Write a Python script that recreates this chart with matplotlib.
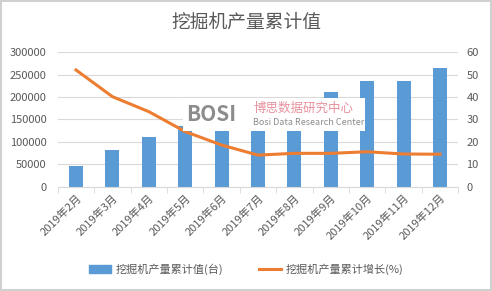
import numpy as np
import matplotlib.pyplot as plt
from matplotlib.lines import Line2D
from matplotlib.patches import Patch

plt.rcParams['font.family'] = ['Noto Sans CJK SC', 'DejaVu Sans']

months = ["2019年2月", "2019年3月", "2019年4月", "2019年5月", "2019年6月", "2019年7月",
          "2019年8月", "2019年9月", "2019年10月", "2019年11月", "2019年12月"]
output = [46900, 82600, 111300, 134500, 155000, 172000, 191300, 211400, 235900, 236000, 265000]
growth = [52.1, 40.2, 33.5, 24.6, 18.6, 14.1, 14.9, 14.9, 15.6, 14.6, 14.5]

bar_color = "#5B9BD5"
line_color = "#ED7D31"
text_color = "#595959"
grid_color = "#D9D9D9"

fig = plt.figure(figsize=(4.92, 2.91), dpi=100)
fig.patch.set_edgecolor("#D0D0D0")
fig.patch.set_linewidth(1.5)

ax = fig.add_axes([0.1175, 0.3584, 0.8138, 0.4619])
x = np.arange(len(months))
ax.bar(x, output, width=0.38, color=bar_color, zorder=2)
ax.set_ylim(0, 300000)
ax.set_yticks(np.arange(0, 300001, 50000))
ax.set_xlim(-0.5, len(months) - 0.5)
ax.yaxis.grid(True, color=grid_color, linewidth=0.8, zorder=0)
ax.set_axisbelow(True)
for s in ["top", "left", "right"]:
    ax.spines[s].set_visible(False)
ax.spines["bottom"].set_color(grid_color)
ax.tick_params(axis="y", length=0, labelsize=8, labelcolor=text_color, pad=8)
ax.set_xticks(x)
ax.set_xticklabels(months, rotation=45, ha="right", rotation_mode="anchor",
                   fontsize=8, color=text_color)
ax.tick_params(axis="x", length=0, pad=4)
ax.set_xticks(np.arange(-0.5, len(months)), minor=True)
ax.tick_params(axis="x", which="minor", length=4, color=grid_color)

ax2 = ax.twinx()
ax2.plot(x, growth, color=line_color, linewidth=2.2, zorder=3)
ax2.set_ylim(0, 60)
ax2.set_yticks(np.arange(0, 61, 10))
for s in ["top", "left", "right", "bottom"]:
    ax2.spines[s].set_visible(False)
ax2.tick_params(axis="y", length=0, labelsize=8, labelcolor=text_color, pad=6)

fig.text(0.5, 0.925, "挖掘机产量累计值", ha="center", va="center",
         fontsize=13.5, color=text_color)

# watermark
fig.patches.append(plt.Rectangle((0.372, 0.55), 0.37, 0.113, transform=fig.transFigure,
                                 facecolor="white", edgecolor="none", zorder=5))
fig.text(0.378, 0.607, "BOSI", fontsize=15, fontweight="bold", color="#8C8C8C",
         va="center", ha="left", zorder=6)
fig.text(0.515, 0.628, "博思数据研究中心", fontsize=9, color="#E8909C",
         va="center", ha="left", zorder=6)
fig.text(0.515, 0.578, "Bosi Data Research Center", fontsize=6.5, color="#8C8C8C",
         va="center", ha="left", zorder=6)

handles = [Patch(color=bar_color), Line2D([0], [0], color=line_color, linewidth=2.2)]
fig.legend(handles, ["挖掘机产量累计值(台)", "挖掘机产量累计增长(%)"],
           loc="center", bbox_to_anchor=(0.5, 0.075), ncol=2, frameon=False,
           fontsize=8, labelcolor=text_color, handlelength=2.0, columnspacing=3.2,
           handleheight=0.7, handletextpad=0.4)

fig.savefig("out.png", dpi=100)
